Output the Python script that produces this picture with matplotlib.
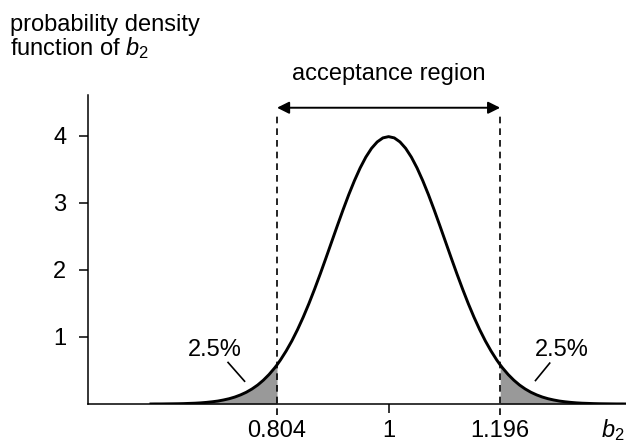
import matplotlib
matplotlib.use('Agg')
import matplotlib.pyplot as plt

# half of the density curve of b2 (mean 1), read at offsets from the centre
offsets = [0.00, 0.01, 0.02, 0.03, 0.04, 0.05, 0.06, 0.07, 0.08, 0.09,
           0.10, 0.11, 0.12, 0.13, 0.14, 0.15, 0.16, 0.17, 0.18, 0.19,
           0.196, 0.20, 0.21, 0.22, 0.23, 0.24, 0.25, 0.26, 0.27, 0.28,
           0.29, 0.30, 0.31, 0.32, 0.33, 0.34, 0.35, 0.36, 0.37, 0.38,
           0.39, 0.40, 0.41, 0.42]
density = [3.989, 3.970, 3.910, 3.814, 3.683, 3.521, 3.332, 3.123, 2.897, 2.661,
           2.420, 2.179, 1.942, 1.714, 1.497, 1.295, 1.109, 0.940, 0.790, 0.656,
           0.584, 0.540, 0.440, 0.355, 0.283, 0.224, 0.175, 0.136, 0.104, 0.079,
           0.060, 0.044, 0.033, 0.024, 0.017, 0.012, 0.009, 0.006, 0.004, 0.003,
           0.002, 0.001, 0.001, 0.000]
centre = 1.0
critical = [0.804, 1.196]
tail_label = '2.5%'
yticks = [1, 2, 3, 4]
xticks = [0.804, 1, 1.196]
xticklabels = ['0.804', '1', '1.196']

plt.rcParams['font.family'] = ['Liberation Sans', 'DejaVu Sans']
plt.rcParams['mathtext.fontset'] = 'custom'
plt.rcParams['mathtext.rm'] = 'Liberation Sans'
plt.rcParams['mathtext.it'] = 'Liberation Sans:italic'
fs = 17

x = [centre - o for o in offsets[::-1]] + [centre + o for o in offsets[1:]]
y = density[::-1] + density[1:]

fig = plt.figure(figsize=(6.26, 4.43), dpi=100)
ax = fig.add_axes([88 / 626, 39 / 443, 538 / 626, 309 / 443])

ax.plot(x, y, color='black', lw=2.1, solid_capstyle='butt', zorder=3)

lo, hi = critical
left = [(a, b) for a, b in zip(x, y) if a <= lo + 1e-9]
right = [(a, b) for a, b in zip(x, y) if a >= hi - 1e-9]
for part in (left, right):
    ax.fill_between([p[0] for p in part], [p[1] for p in part], 0,
                    color='#999999', lw=0, zorder=2)

for c in critical:
    ax.plot([c, c], [-0.17, 4.31], color='black', lw=1.2, ls=(0, (4, 3)),
            clip_on=False, zorder=4)

ax.annotate('', xy=(lo, 4.42), xytext=(hi, 4.42), annotation_clip=False,
            arrowprops=dict(arrowstyle='<|-|>', color='black', lw=1.4,
                            mutation_scale=18, shrinkA=0, shrinkB=0))
ax.text(centre, 4.93, 'acceptance region', ha='center', va='center',
        fontsize=fs, clip_on=False)

ax.text(0.695, 0.81, tail_label, ha='center', va='center', fontsize=fs)
ax.plot([0.718, 0.747], [0.62, 0.34], color='black', lw=1.2)
ax.text(1.304, 0.81, tail_label, ha='center', va='center', fontsize=fs)
ax.plot([1.283, 1.258], [0.61, 0.35], color='black', lw=1.2)

ax.set_xlim(0.472, 1.417)
ax.set_ylim(0, 4.61)
ax.spines['top'].set_visible(False)
ax.spines['right'].set_visible(False)
for s in ('left', 'bottom'):
    ax.spines[s].set_linewidth(1.1)
ax.set_yticks(yticks)
ax.set_yticklabels([str(v) for v in yticks], fontsize=fs)
ax.set_xticks(xticks)
ax.set_xticklabels(xticklabels, fontsize=fs)
ax.tick_params(axis='both', direction='out', length=6.5, width=1.1)
ax.tick_params(axis='y', pad=9)
ax.tick_params(axis='x', pad=5)
for tick, loc in zip(ax.xaxis.get_major_ticks(), xticks):
    if loc != centre:
        tick.tick1line.set_visible(False)

fig.text(10 / 626, 1 - 14 / 443, 'probability density\nfunction of $b_2$',
         ha='left', va='top', fontsize=fs, linespacing=0.95)
fig.text(601 / 626, 6 / 443, '$b_2$', ha='left', va='baseline', fontsize=fs)

fig.savefig('out.png', dpi=100)
